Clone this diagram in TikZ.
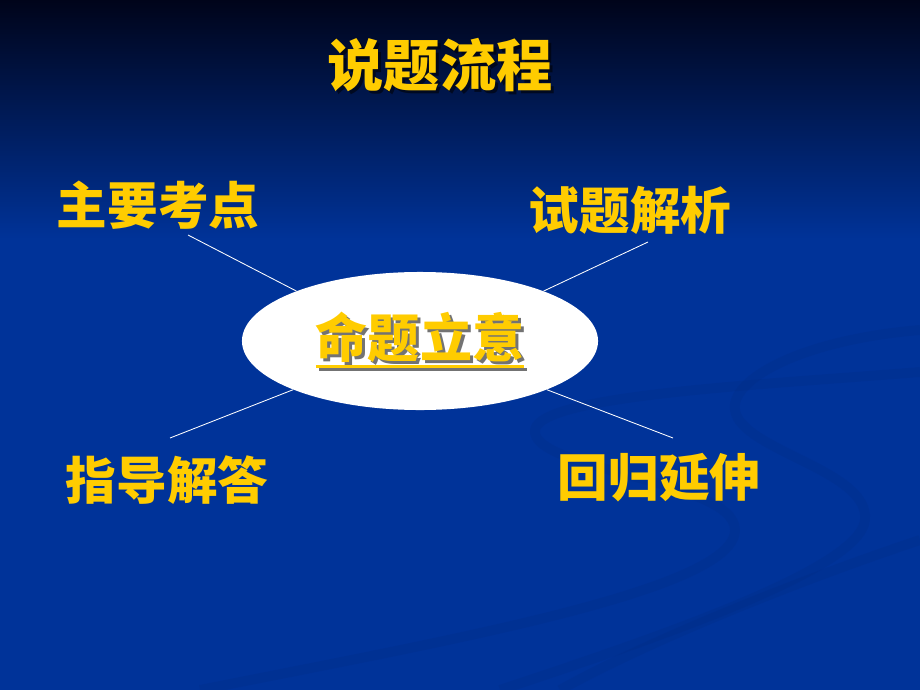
\documentclass[tikz,border=0pt]{standalone}
\usepackage{fontspec}
\newfontfamily\cjk{Noto Sans CJK SC}
\usetikzlibrary{shapes.geometric}
\definecolor{slideblue}{HTML}{003399}
\definecolor{slidetop}{HTML}{00041A}
\definecolor{swirlblue}{HTML}{002A80}
\definecolor{labelyellow}{HTML}{FFCC00}
\newcommand{\ulword}[1]{\vtop{\hbox{#1}\kern1.5pt\hrule height 2pt}}

\begin{document}
\begin{tikzpicture}[x=0.025cm,y=-0.025cm,
    every node/.style={inner sep=0pt},
    title/.style={text=labelyellow,font=\cjk\bfseries\fontsize{40}{44}\selectfont},
    item/.style={text=labelyellow,font=\cjk\bfseries\fontsize{36}{40}\selectfont},
    centeritem/.style={text=labelyellow,font=\cjk\bfseries\fontsize{37}{40}\selectfont},
    shadowtext/.style={text=black,opacity=0.55},
    link/.style={draw=white,line width=0.6pt},
    swirl/.style={draw=swirlblue,line width=7pt,opacity=0.22}]

    % background
    \useasboundingbox (0,0) rectangle (920,690);
    \fill[slideblue] (0,0) rectangle (920,690);
    \shade[top color=slidetop,bottom color=slideblue] (0,0) rectangle (920,240);
    \draw[swirl] (920,372) .. controls (760,385) and (540,395) .. (535,430)
        .. controls (530,470) and (735,480) .. (735,530)
        .. controls (735,590) and (450,640) .. (200,690);
    \draw[swirl] (920,330) .. controls (800,340) and (730,380) .. (735,410)
        .. controls (740,450) and (870,470) .. (865,520)
        .. controls (860,570) and (650,640) .. (500,690);
    \draw[swirl] (920,540) .. controls (800,580) and (650,640) .. (560,690);

    % title
    \node[title,shadowtext] (title-sh) at (443,68) {说题流程};
    \node[title] (title) at (440,65) {说题流程};

    % centre
    \node[ellipse,fill=white,minimum width=8.9cm,minimum height=3.45cm] (yitu) at (420,341) {};
    \node[centeritem,shadowtext] (mingti-sh) at (423,343) {\ulword{命题立意}};
    \node[centeritem] (mingti) at (420,340) {\ulword{命题立意}};

    % four steps
    \node[item] (kaodian) at (158,205) {主要考点};
    \node[item] (jiexi) at (630,210) {试题解析};
    \node[item] (zhidao) at (167,480) {指导解答};
    \node[item] (huigui) at (659,478) {回归延伸};

    \coordinate (kaodian-end) at (188,235);
    \coordinate (jiexi-end) at (648,242);
    \coordinate (zhidao-end) at (170,438);
    \coordinate (huigui-end) at (673,438);

    \draw[link] (kaodian-end) -- (yitu.158);
    \draw[link] (jiexi-end) -- (yitu.22);
    \draw[link] (zhidao-end) -- (yitu.201);
    \draw[link] (huigui-end) -- (yitu.339);
\end{tikzpicture}
\end{document}
